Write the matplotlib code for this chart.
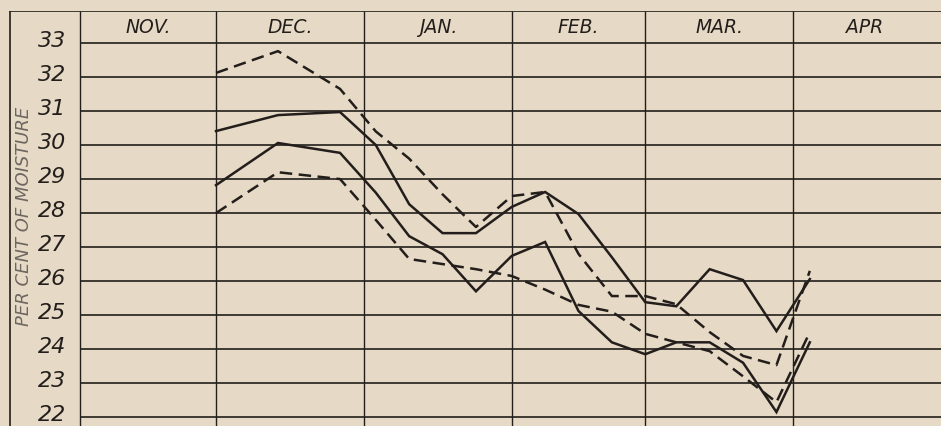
import matplotlib
matplotlib.use('Agg')
import matplotlib.pyplot as plt

# moisture readings, x = days counted from Nov 1
days = [30, 43, 56, 63.5, 70.5, 77.5, 84.5, 92, 99, 106, 113, 120,
        126.5, 133.5, 140.5, 147.5, 154.5]
solid_upper = [30.41, 30.88, 30.97, 30.0, 28.26, 27.41, 27.41, 28.18, 28.62,
               27.97, 26.7, 25.38, 25.26, 26.35, 26.03, 24.53, 26.06]
dashed_upper = [32.12, 32.76, 31.65, 30.4, 29.6, 28.55, 27.59, 28.5, 28.62,
                26.8, 25.56, 25.56, 25.32, 24.5, 23.8, 23.53, 26.3]
solid_lower = [28.82, 30.06, 29.77, 28.6, 27.32, 26.79, 25.7, 26.74, 27.15,
               25.12, 24.2, 23.85, 24.2, 24.2, 23.6, 22.15, 24.2]
dashed_lower = [28.0, 29.2, 29.0, 27.8, 26.65, 26.5, 26.35, 26.15, 25.75,
                25.3, 25.1, 24.45, 24.2, 23.94, 23.2, 22.44, 24.5]

months = ['NOV.', 'DEC.', 'JAN.', 'FEB.', 'MAR.', 'APR']
month_starts = [0, 30, 61, 92, 120, 151]
y_ticks = list(range(22, 34))

paper = '#e6dac6'
ink = '#231e1b'

fig = plt.figure(figsize=(9.41, 4.27), dpi=100, facecolor=paper)
ax = fig.add_axes([9 / 941, 0, 932 / 941, 415 / 427])
ax.set_facecolor(paper)

x_left, x_lab, x_right = -13.4, 1.5, 182.0
y_bot, y_top = 21.74, 33.94
ax.set_xlim(x_left, x_right)
ax.set_ylim(y_bot, y_top)
ax.axis('off')

# frame: top rule, outer left rule, label column rule
ax.hlines(y_top, x_left, x_right, color=ink, lw=1.2)
ax.vlines(x_left + 0.15, y_bot, y_top, color=ink, lw=1.2)
ax.vlines([x_lab] + month_starts[1:], y_bot, y_top, color=ink, lw=1.0)
ax.hlines(y_ticks, x_lab, x_right, color=ink, lw=1.2)

# month headings
edges = [x_lab] + month_starts[1:] + [month_starts[-1] + 30]
for i, m in enumerate(months):
    xc = (edges[i] + edges[i + 1]) / 2
    ax.text(xc, 33.47, m, ha='center', va='center', fontsize=13.5,
            style='italic', color=ink)

# y labels, sitting just on their rule
for v in y_ticks:
    ax.text(-1.5, v + 0.1, str(v), ha='right', va='center', fontsize=16,
            style='italic', color=ink)

ax.text(-10.3, 27.94, 'PER CENT OF MOISTURE', rotation=90, ha='center',
        va='center', fontsize=13, style='italic', color='#6e6660')

# data lines
kw = dict(color=ink, lw=1.8, solid_joinstyle='miter')
ax.plot(days, solid_upper, **kw)
ax.plot(days, solid_lower, **kw)
ax.plot(days, dashed_upper, dashes=(5, 2.6), **kw)
ax.plot(days, dashed_lower, dashes=(5, 2.6), **kw)

fig.savefig('out.png', dpi=100, facecolor=paper)
